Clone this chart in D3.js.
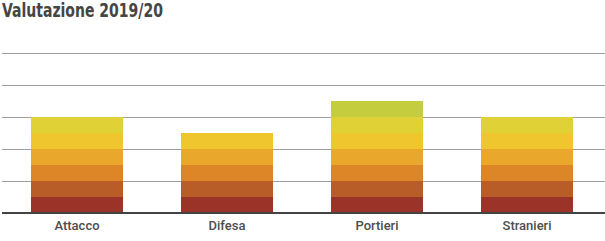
<!DOCTYPE html>
<html><head><meta charset="utf-8">
<script src="https://cdn.jsdelivr.net/npm/d3@7"></script>
<style>body{margin:0;background:#fff}svg{display:block}</style>
</head><body><svg id="c" width="605" height="241"></svg>
<script>
const categories = ["Attacco","Difesa","Portieri","Stranieri"];
// number of rating segments (each 0.5) per category
const segmentCounts = [6,5,7,6];
const segmentValue = 0.5;
const yTicks = [0,1,2,3,4,5];
const segColors = ["#9b3328","#b95d28","#dc8627","#e9a82b","#f0c62e","#e0d236","#c3cd3d"];

const svg = d3.select("#c");
const W = 605, H = 241;
const x = d3.scaleBand().domain(categories).range([2,602]).paddingInner(0.3867).paddingOuter(0.1933);
const y = d3.scaleLinear().domain([0,5]).range([212.7,53.3]);

svg.append("text").attr("x",2).attr("y",17)
  .attr("font-family","'DejaVu Sans Condensed','Liberation Sans Narrow',sans-serif")
  .attr("font-stretch","condensed")
  .attr("font-weight","bold").attr("font-size",19.5).attr("fill","#454545")
  .attr("textLength",161).attr("lengthAdjust","spacingAndGlyphs")
  .text("Valutazione 2019/20");

svg.append("g").selectAll("line").data(yTicks.slice(1)).join("line")
  .attr("x1",2).attr("x2",W).attr("y1",d=>Math.round(y(d))+0.5).attr("y2",d=>Math.round(y(d))+0.5)
  .attr("stroke","#9e9e9e").attr("stroke-width",1);

const segs = [];
categories.forEach((c,i)=>{
  for(let k=0;k<segmentCounts[i];k++) segs.push({c,k,y0:k*segmentValue,y1:(k+1)*segmentValue});
});
svg.append("g").selectAll("rect").data(segs).join("rect")
  .attr("x",d=>x(d.c)).attr("width",x.bandwidth())
  .attr("y",d=>y(d.y1)).attr("height",d=>y(d.y0)-y(d.y1))
  .attr("fill",d=>segColors[d.k]).attr("shape-rendering","crispEdges");

svg.append("line").attr("x1",2).attr("x2",W).attr("y1",y(0)+0.3).attr("y2",y(0)+0.3)
  .attr("stroke","#444").attr("stroke-width",2);

const xa = svg.append("g").attr("transform",`translate(0,${y(0)+1})`)
  .call(d3.axisBottom(x).tickSize(0).tickPadding(7));
xa.select(".domain").remove();
xa.selectAll("text").attr("font-family","Roboto,sans-serif").attr("font-size",13)
  .attr("font-weight",500).attr("fill","#4d4d4d");
</script></body></html>
